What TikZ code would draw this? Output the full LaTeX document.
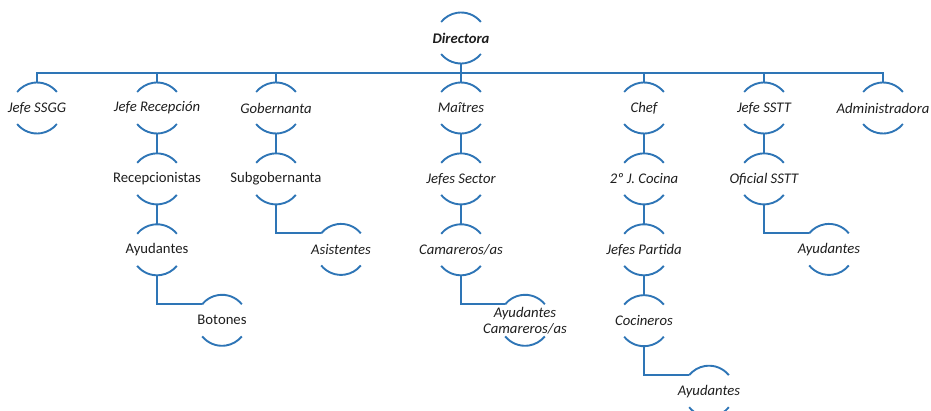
\documentclass[tikz,border=0pt]{standalone}
\usepackage{fontspec}
\setmainfont{Carlito}
\usetikzlibrary{positioning,calc}
\definecolor{orgblue}{RGB}{46,117,182}
\definecolor{orgtext}{RGB}{30,30,30}

\begin{document}
\begin{tikzpicture}[
    x=1pt, y=1pt,
    role/.style={inner sep=1pt, minimum width=50pt, minimum height=50pt, align=center,
                 text=orgtext, font=\fontsize{14.7}{16}\selectfont\itshape},
    plain/.style={role, font=\fontsize{14.7}{16}\selectfont\upshape},
    arcline/.style={draw=orgblue, line width=1.9pt},
    link/.style={draw=orgblue, line width=1.9pt},
    node distance=20.5pt
]
    \useasboundingbox (0,0) rectangle (931,-411);

    % Top
    \node[role, font=\fontsize{14.7}{16}\selectfont\bfseries\itshape] (dir) at (461,-38) {Directora};

    % First level
    \node[role] (ssgg)  at (37,-108)  {Jefe SSGG};
    \node[role] (recep) at (157,-108) {Jefe Recepción};
    \node[role] (gober) at (276,-108) {Gobernanta};
    \node[role] (maitre) at (461,-108) {Maîtres};
    \node[role] (chef)  at (644,-108) {Chef};
    \node[role] (sstt)  at (764,-108) {Jefe SSTT};
    \node[role] (admin) at (883,-108) {Administradora};

    % Recepción
    \node[plain, below=of recep] (recepc) {Recepcionistas};
    \node[plain, below=of recepc] (ayudr) {Ayudantes};
    \node[plain] (boton) at ($(ayudr)+(65,-70.5)$) {Botones};

    % Gobernanta
    \node[plain, below=of gober] (subgob) {Subgobernanta};
    \node[role] (asist) at ($(subgob)+(65,-70.5)$) {Asistentes};

    % Maîtres
    \node[role, below=of maitre] (jsector) {Jefes Sector};
    \node[role, below=of jsector] (camar) {Camareros/as};
    \node[role] (ayudcam) at ($(camar)+(64,-70.5)$) {Ayudantes\\Camareros/as};

    % Chef
    \node[role, below=of chef] (segcoc) {2º J. Cocina};
    \node[role, below=of segcoc] (jpartida) {Jefes Partida};
    \node[role, below=of jpartida] (cocin) {Cocineros};
    \node[role] (ayudcoc) at ($(cocin)+(65,-70.5)$) {Ayudantes};

    % SSTT
    \node[role, below=of sstt] (oficial) {Oficial SSTT};
    \node[role] (ayudst) at ($(oficial)+(65,-70.5)$) {Ayudantes};

    % Half circles
    \foreach \n in {dir, ssgg, recep, gober, maitre, chef, sstt, admin,
                    recepc, ayudr, boton, subgob, asist, jsector, camar, ayudcam,
                    segcoc, jpartida, cocin, ayudcoc, oficial, ayudst} {
        \draw[arcline] ([shift={(39:25.5)}]\n.center) arc[start angle=39, end angle=141, radius=25.5];
        \draw[arcline] ([shift={(219:25.5)}]\n.center) arc[start angle=219, end angle=321, radius=25.5];
    }

    % Connectors
    \foreach \n in {ssgg, recep, gober, maitre, chef, sstt, admin} {
        \draw[link] (dir.south) -- ++(0,-9.5) -| (\n.north);
    }
    \foreach \a/\b in {recep/recepc, recepc/ayudr, gober/subgob, maitre/jsector, jsector/camar,
                       chef/segcoc, segcoc/jpartida, jpartida/cocin, sstt/oficial} {
        \draw[link] (\a.south) -- (\b.north);
    }
    \foreach \a/\b in {ayudr/boton, subgob/asist, camar/ayudcam, cocin/ayudcoc, oficial/ayudst} {
        \draw[link] (\a.south) |- ([shift={(141:25.5)}]\b.center);
    }
\end{tikzpicture}
\end{document}
